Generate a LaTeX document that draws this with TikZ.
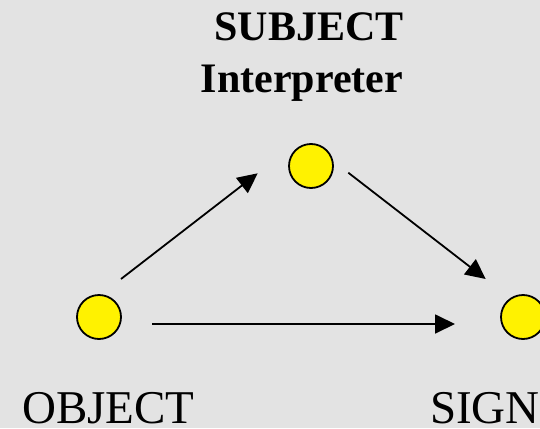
\documentclass[tikz,border=0pt]{standalone}
\usepackage{fontspec}
\setmainfont{Liberation Serif}
\usetikzlibrary{arrows.meta}
\definecolor{bggray}{RGB}{227,227,227}
\tikzset{
  dot/.style={circle, draw=black, line width=1.8pt, fill=yellow, minimum size=44pt, inner sep=0pt},
  link/.style={line width=1.8pt, -{Triangle[length=20pt, width=19pt]}},
  headlabel/.style={anchor=base, inner sep=0pt, font=\fontsize{42}{48}\selectfont\bfseries},
  footlabel/.style={anchor=base, inner sep=0pt, font=\fontsize{47}{54}\selectfont},
}
\begin{document}
\begin{tikzpicture}[x=1pt, y=-1pt]
  % canvas
  \fill[bggray] (0,0) rectangle (540,428);
  \useasboundingbox (0,0) rectangle (540,428);

  % the three vertices
  \node[dot] (subj) at (311,166) {};
  \node[dot] (obj)  at (99,317) {};
  \node[dot] (sign) at (523,317) {};

  % labels
  \node[headlabel] (subjname) at (309,41) {SUBJECT};
  \node[headlabel] (interp)   at (302,92) {Interpreter};
  \node[footlabel] (objname)  at (108.5,423) {OBJECT};
  \node[footlabel] (signname) at (485,423) {SIGN};

  % arrow end points
  \coordinate (os) at (121,279);
  \coordinate (oe) at (257.7,173.3);
  \coordinate (ss) at (348.3,172.7);
  \coordinate (se) at (485.7,279);
  \coordinate (hs) at (152,324);
  \coordinate (he) at (455,324);

  % arrows
  \draw[link] (os) -- (oe);
  \draw[link] (ss) -- (se);
  \draw[link] (hs) -- (he);
\end{tikzpicture}
\end{document}
